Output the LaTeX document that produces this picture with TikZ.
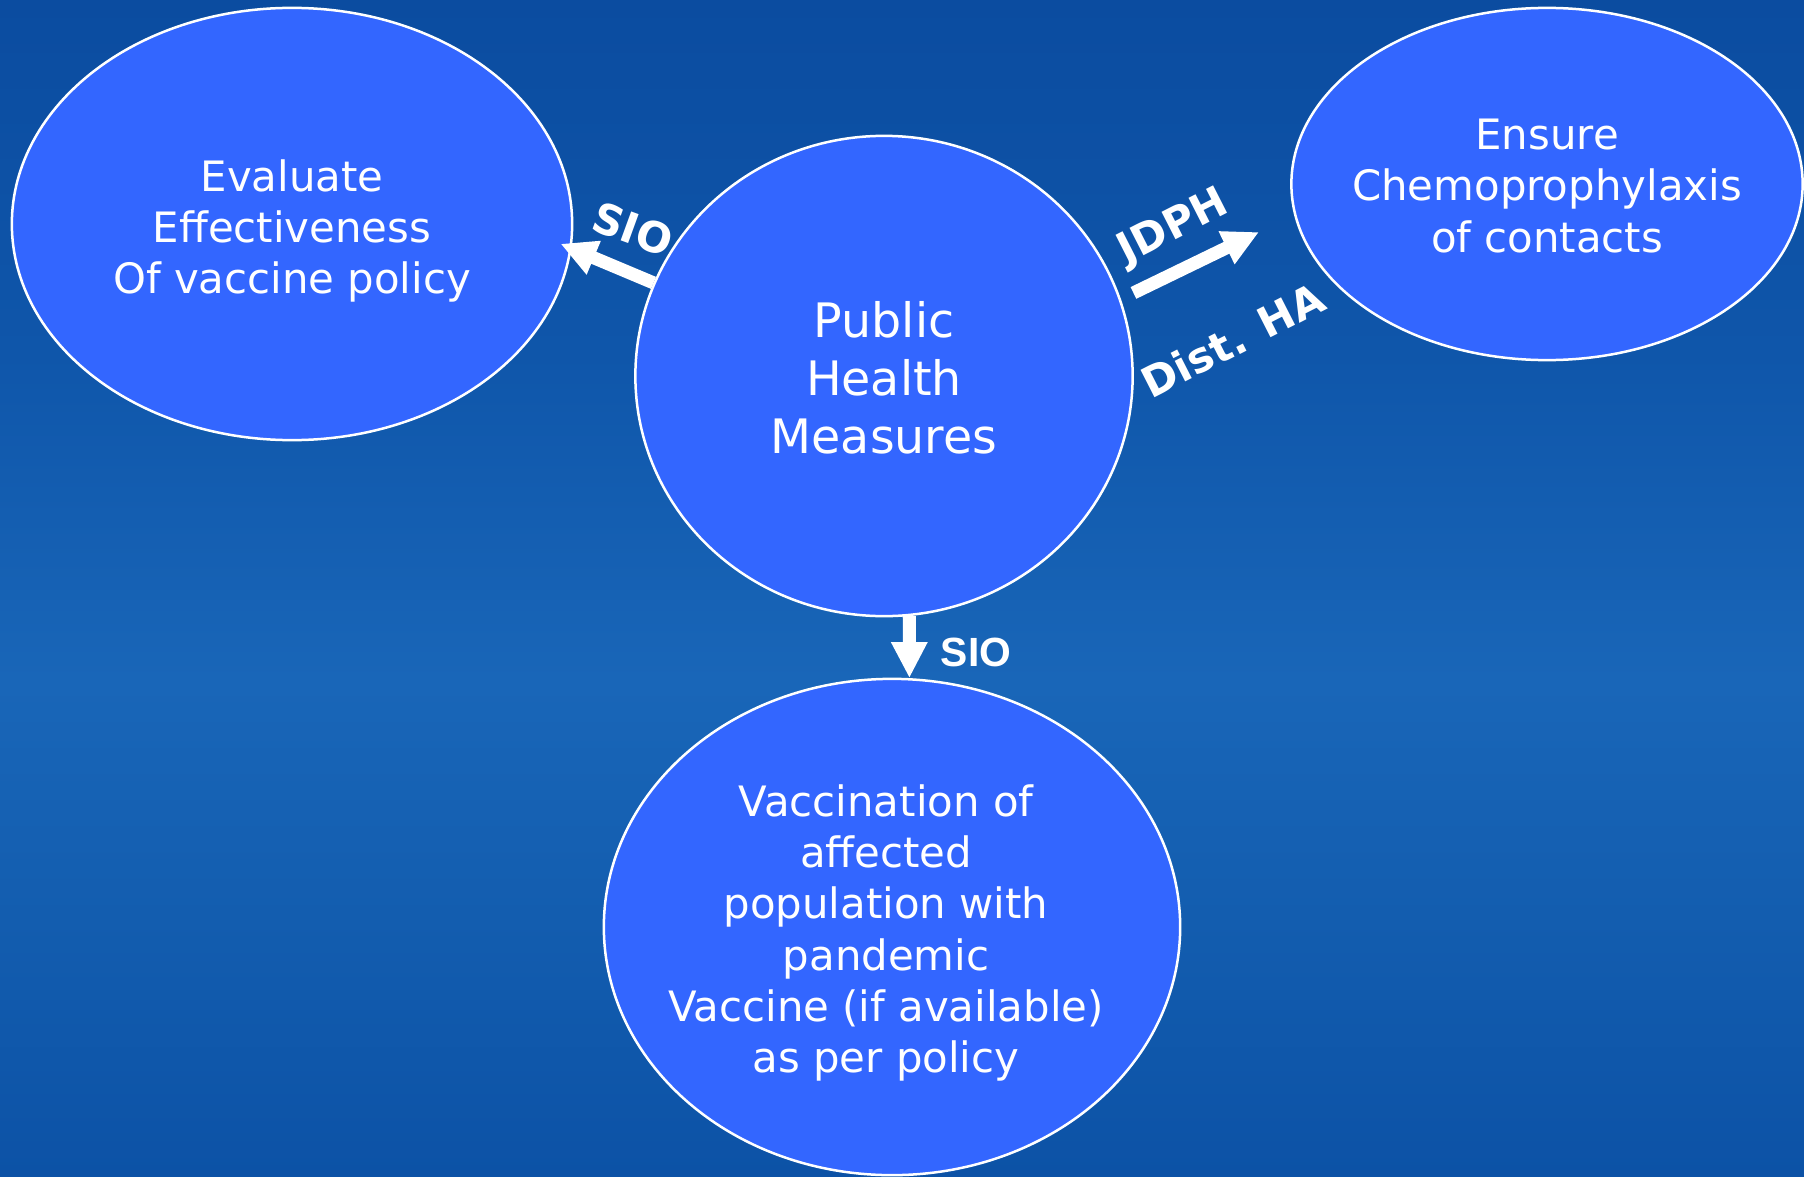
\documentclass[tikz,border=0pt]{standalone}
\usepackage{fontspec}
\setmainfont{DejaVu Sans}
\newfontfamily\lbfont{Liberation Sans}
\usetikzlibrary{shapes.geometric,arrows.meta,calc}
\definecolor{bubblefill}{HTML}{3366FF}
\definecolor{bgA}{HTML}{0B4CA0}
\definecolor{bgAA}{HTML}{0F56AA}
\definecolor{bgB}{HTML}{1966B8}
\definecolor{bgC}{HTML}{135DAF}
\definecolor{bgD}{HTML}{0C52A6}
\pgfdeclareverticalshading{bgshade}{100bp}{color(0bp)=(bgD); color(25bp)=(bgD); color(36bp)=(bgC); color(46bp)=(bgB); color(60bp)=(bgAA); color(75bp)=(bgA); color(100bp)=(bgA)}
\begin{document}
\begin{tikzpicture}[x=0.01cm,y=-0.01cm,
  bubble/.style={ellipse, draw=white, line width=0.025cm, fill=bubblefill, inner sep=0pt},
  txt/.style={text=white, align=center, font=\fontsize{11.9pt}{14.6pt}\selectfont, inner sep=0pt},
  bigtxt/.style={text=white, align=center, font=\fontsize{13.5pt}{16.5pt}\selectfont, inner sep=0pt},
  lbl/.style={text=white, font=\bfseries\fontsize{12pt}{14pt}\selectfont, inner sep=0pt},
  fat/.style={white, line width=0.13cm, -{Triangle[length=0.36cm,width=0.34cm]}}]
\useasboundingbox (0,0) rectangle (1804,1176);
\shade[shading=bgshade] (0,0) rectangle (1804,1176);

\node[bubble, minimum width=5.6cm, minimum height=4.32cm] (l) at (292,224) {};
\node[txt] (lt) at (292,231) {Evaluate\\Effectiveness\\Of vaccine policy};

\node[bubble, minimum width=4.97cm, minimum height=4.8cm] (c) at (884,376) {};
\node[bigtxt] (ct) at (884,378) {Public\\Health\\Measures};

\node[bubble, minimum width=5.11cm, minimum height=3.52cm] (r) at (1547,184) {};
\node[txt] (rt) at (1547,186) {Ensure\\Chemoprophylaxis\\of contacts};

\node[bubble, minimum width=5.76cm, minimum height=4.96cm] (b) at (892,927) {};
\node[txt] (bt) at (886,933) {Vaccination of\\affected\\population with\\pandemic\\Vaccine (if available)\\as per policy};

\draw[fat, shorten >=-0.12cm] (c.158) -- (l.-5);
\draw[fat, shorten <=0.14cm, shorten >=0.39cm] (c.18) -- (r.187);
\draw[fat] (c.-84) -- (b.86);

\node[lbl, rotate=-20] (s1) at (633,229) {SIO};
\node[lbl, rotate=27] (jd) at (1174,228) {JDPH};
\node[lbl, rotate=27] (dh) at (1233,340) {Dist. HA};
\node[lbl, font=\lbfont\bfseries\fontsize{11.6pt}{14pt}\selectfont] (s2) at (976,652) {SIO};
\end{tikzpicture}
\end{document}
